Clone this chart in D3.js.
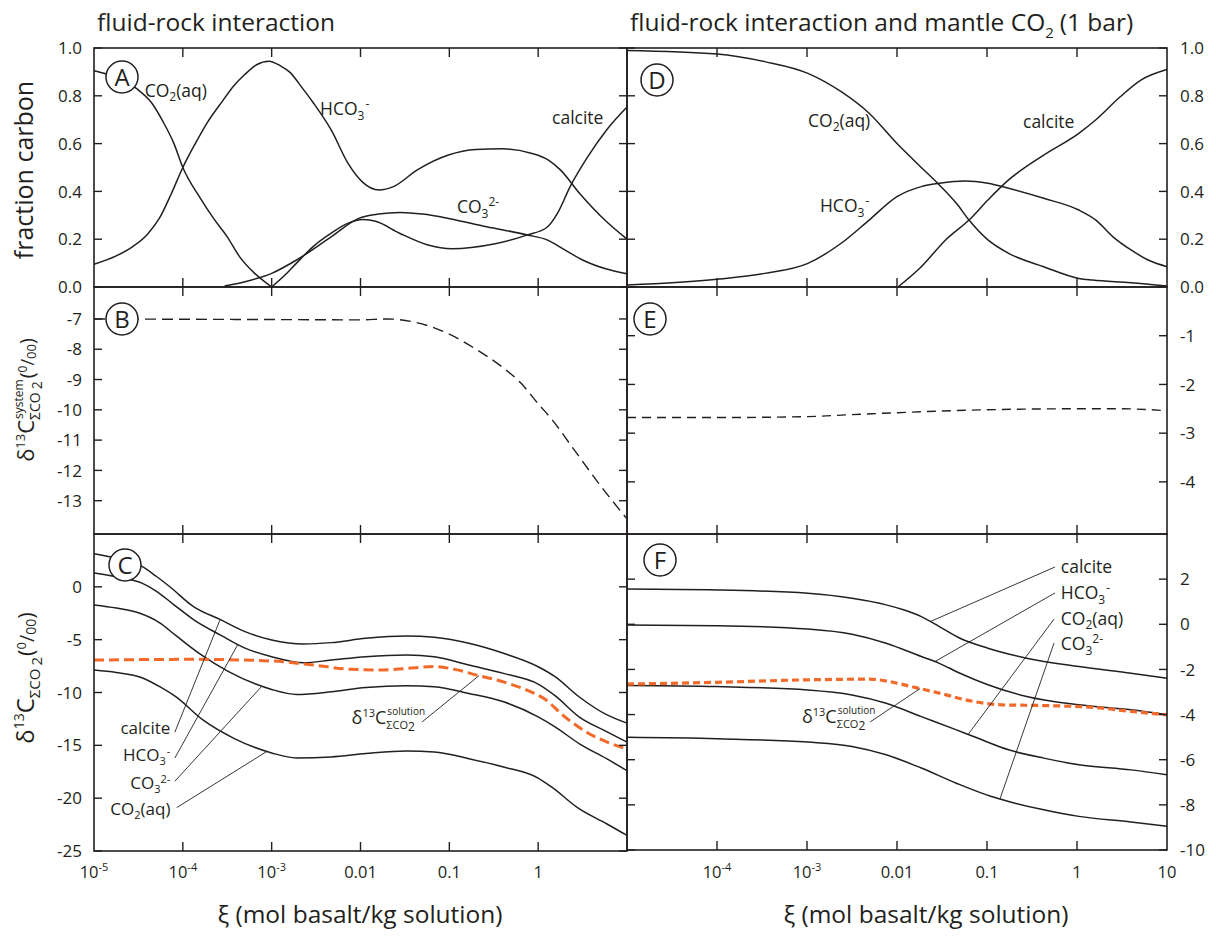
<!DOCTYPE html>
<html>
<head>
<meta charset="utf-8">
<script src="https://cdn.jsdelivr.net/npm/d3@7"></script>
<style>
  body { margin: 0; background: #fff; }
  svg text { font-family: "Open Sans", sans-serif; fill: #231f20; }
</style>
</head>
<body>
<svg id="chart" width="1216" height="940"></svg>
<script>
// every series is [log10 xi, value]

// A - fraction carbon, fluid-rock interaction
const aCO2aq = [[-5,0.905],[-4.85,0.89],[-4.52,0.83],[-4.35,0.77],[-4.22,0.69],[-4.1,0.6],[-4.0,0.5],[-3.8,0.37],[-3.66,0.29],[-3.5,0.21],[-3.36,0.126],[-3.2,0.06],[-3.0,0.0]];
const aHCO3 = [[-5,0.095],[-4.75,0.13],[-4.56,0.17],[-4.4,0.22],[-4.26,0.29],[-4.13,0.39],[-4.0,0.5],[-3.86,0.6],[-3.73,0.685],[-3.55,0.78],[-3.43,0.84],[-3.3,0.89],[-3.17,0.93],[-3.03,0.945],[-2.9,0.925],[-2.8,0.9],[-2.65,0.83],[-2.53,0.77],[-2.33,0.657],[-2.14,0.517],[-1.98,0.44],[-1.79,0.406],[-1.63,0.42],[-1.36,0.49],[-1.01,0.552],[-0.7,0.575],[-0.4,0.578],[-0.08,0.56],[0.12,0.53],[0.25,0.49],[0.47,0.39],[0.75,0.28],[1.0,0.2]];
const aCO3 = [[-3.53,0.004],[-3.3,0.022],[-3.0,0.057],[-2.72,0.113],[-2.33,0.21],[-2.02,0.287],[-1.8,0.305],[-1.55,0.312],[-1.3,0.305],[-1.01,0.287],[-0.58,0.252],[-0.12,0.218],[0.1,0.197],[0.3,0.155],[0.5,0.113],[0.77,0.075],[1.0,0.055]];
const aCalcite = [[-3.0,0.0],[-2.85,0.05],[-2.72,0.1],[-2.53,0.17],[-2.33,0.225],[-2.15,0.265],[-1.97,0.282],[-1.83,0.275],[-1.56,0.225],[-1.25,0.177],[-0.97,0.16],[-0.5,0.18],[-0.12,0.218],[0.1,0.25],[0.22,0.31],[0.36,0.42],[0.55,0.54],[0.77,0.657],[1.0,0.753]];

// B - d13C system
const bSystem = [[-5,-7.0],[-3,-7.02],[-2,-7.03],[-1.7,-7.0],[-1.4,-7.1],[-1.0,-7.5],[-0.7,-8.0],[-0.4,-8.6],[-0.2,-9.1],[0,-9.8],[0.15,-10.3],[0.4,-11.3],[0.7,-12.5],[1.0,-13.6]];

// C - d13C of species and solution
const cCalcite = [[-5,3.13],[-4.75,2.7],[-4.46,1.93],[-4.3,1.0],[-4.15,0.03],[-3.88,-1.87],[-3.57,-3.13],[-3.3,-4.24],[-3.0,-5.03],[-2.64,-5.41],[-2.33,-5.28],[-1.94,-4.87],[-1.48,-4.65],[-1.17,-4.78],[-0.78,-5.34],[-0.39,-6.29],[0.0,-7.56],[0.19,-8.5],[0.46,-10.4],[0.77,-12.1],[1.0,-12.9]];
const cHCO3 = [[-5,1.3],[-4.75,0.95],[-4.46,0.35],[-4.3,-0.4],[-4.1,-1.7],[-3.88,-3.1],[-3.57,-4.6],[-3.3,-5.8],[-3.0,-6.61],[-2.64,-7.18],[-2.33,-6.93],[-1.94,-6.61],[-1.48,-6.45],[-1.17,-6.61],[-0.78,-7.4],[-0.39,-8.19],[0.0,-9.2],[0.19,-10.3],[0.46,-12.3],[0.77,-13.7],[1.0,-14.7]];
const cCO3 = [[-5,-1.71],[-4.75,-2.0],[-4.5,-2.45],[-4.26,-3.4],[-4.08,-4.6],[-3.8,-6.4],[-3.49,-8.0],[-3.18,-9.2],[-3.0,-9.71],[-2.72,-10.18],[-2.33,-9.93],[-1.94,-9.52],[-1.48,-9.36],[-1.17,-9.46],[-0.78,-10.09],[-0.39,-10.88],[0.0,-12.3],[0.19,-13.25],[0.46,-14.83],[0.77,-16.26],[1.0,-17.4]];
const cCO2aq = [[-5,-7.87],[-4.75,-8.1],[-4.46,-8.6],[-4.25,-9.5],[-4.08,-10.4],[-3.77,-12.62],[-3.42,-14.36],[-3.0,-15.72],[-2.72,-16.19],[-2.33,-16.1],[-1.94,-15.78],[-1.48,-15.53],[-1.17,-15.62],[-0.78,-16.26],[-0.39,-17.05],[0.0,-18.1],[0.15,-18.94],[0.46,-21.0],[0.77,-22.42],[1.0,-23.53]];
const cSolution = [[-5,-6.93],[-3.88,-6.86],[-3.0,-7.02],[-2.53,-7.4],[-2.1,-7.81],[-1.75,-7.87],[-1.48,-7.72],[-1.17,-7.55],[-0.94,-7.81],[-0.67,-8.4],[-0.39,-9.0],[-0.12,-9.8],[0.07,-10.6],[0.3,-12.3],[0.57,-13.88],[0.77,-14.67],[1.0,-15.35]];

// D - fraction carbon with mantle CO2
const dCO2aq = [[-5,0.99],[-4.0,0.975],[-3.47,0.943],[-2.99,0.894],[-2.62,0.817],[-2.31,0.727],[-2.0,0.6],[-1.73,0.5],[-1.53,0.427],[-1.34,0.35],[-1.2,0.28],[-0.99,0.197],[-0.76,0.141],[-0.37,0.085],[0.02,0.036],[0.17,0.029],[0.6,0.018],[1.0,0.004]];
const dHCO3 = [[-5,0.008],[-4.0,0.032],[-3.47,0.057],[-2.99,0.099],[-2.62,0.183],[-2.31,0.28],[-2.0,0.378],[-1.73,0.42],[-1.53,0.434],[-1.24,0.444],[-0.99,0.434],[-0.76,0.413],[-0.37,0.371],[0.02,0.322],[0.21,0.28],[0.4,0.21],[0.6,0.155],[0.79,0.113],[1.0,0.085]];
const dCalcite = [[-1.99,0.0],[-1.73,0.085],[-1.46,0.197],[-1.2,0.28],[-0.99,0.364],[-0.76,0.448],[-0.37,0.552],[0.02,0.643],[0.21,0.7],[0.48,0.796],[0.71,0.866],[1.0,0.91]];

// E - d13C system with mantle CO2
const eSystem = [[-5,-2.68],[-4,-2.68],[-3,-2.66],[-2.5,-2.62],[-2,-2.58],[-1,-2.52],[0,-2.5],[0.5,-2.5],[1,-2.54]];

// F - d13C of species and solution with mantle CO2
const fCalcite = [[-5,1.56],[-4,1.52],[-2.99,1.37],[-2.5,1.15],[-2.12,0.86],[-1.92,0.63],[-1.73,0.34],[-1.53,-0.1],[-1.3,-0.62],[-0.99,-1.06],[-0.56,-1.5],[0.02,-1.87],[0.6,-2.17],[1.0,-2.39]];
const fHCO3 = [[-5,-0.03],[-4,-0.06],[-2.99,-0.21],[-2.5,-0.44],[-2.12,-0.84],[-1.73,-1.43],[-1.53,-1.73],[-1.3,-2.17],[-0.99,-2.68],[-0.56,-3.2],[0.02,-3.57],[0.6,-3.79],[1.0,-4.01]];
const fCO2aq = [[-5,-2.71],[-4,-2.76],[-2.99,-2.91],[-2.5,-3.13],[-2.12,-3.5],[-1.73,-4.09],[-1.34,-4.68],[-1.15,-4.97],[-0.76,-5.56],[-0.37,-5.93],[0.02,-6.22],[0.6,-6.45],[1.0,-6.67]];
const fCO3 = [[-5,-5.01],[-4,-5.07],[-2.99,-5.22],[-2.5,-5.41],[-2.12,-5.78],[-1.73,-6.37],[-1.34,-7.04],[-0.95,-7.63],[-0.76,-7.85],[-0.37,-8.22],[0.02,-8.51],[0.6,-8.76],[1.0,-8.95]];
const fSolution = [[-5,-2.65],[-4,-2.57],[-2.99,-2.46],[-2.31,-2.43],[-2.08,-2.54],[-1.84,-2.76],[-1.53,-3.05],[-1.15,-3.42],[-0.84,-3.57],[-0.37,-3.6],[0.21,-3.69],[0.6,-3.86],[1.0,-4.01]];

// ticks
const xTickMarks = [1e-4, 1e-3, 0.01, 0.1, 1];
const xLeftTicks = [1e-5, 1e-4, 1e-3, 0.01, 0.1, 1];
const xLeftLabels = [["10","-5"],["10","-4"],["10","-3"],["0.01"],["0.1"],["1"]];
const xRightTicks = [1e-4, 1e-3, 0.01, 0.1, 1, 10];
const xRightLabels = [["10","-4"],["10","-3"],["0.01"],["0.1"],["1"],["10"]];
const fracTicks = [0, 0.2, 0.4, 0.6, 0.8, 1.0];
const fracLabels = ["0.0","0.2","0.4","0.6","0.8","1.0"];
const bTicks = [-7, -8, -9, -10, -11, -12, -13];
const cTicks = [0, -5, -10, -15, -20, -25];
const eTicks = [-1, -2, -3, -4];
const fTicks = [2, 0, -2, -4, -6, -8, -10];

const ink = "#231f20", orange = "#f26a2a";
const svg = d3.select("#chart");
svg.append("rect").attr("width", 1216).attr("height", 940).attr("fill", "#fff");

const xL = d3.scaleLog().domain([1e-5, 10]).range([94, 627]);
const xR = d3.scaleLog().domain([1e-5, 10]).range([627, 1167]);
const yA = d3.scaleLinear().domain([0, 1]).range([287, 48]);
const yB = d3.scaleLinear().domain([-14.1, -5.945]).range([534, 287]);
const yC = d3.scaleLinear().domain([-25, 5]).range([851, 534]);
const yD = yA;
const yE = d3.scaleLinear().domain([-5.07, 0]).range([534, 287]);
const yF = d3.scaleLinear().domain([-10, 4]).range([850, 534]);

const xi = e => Math.pow(10, e);

// one text element, tspans for sub/superscripts; "back" steps to a marked x so scripts can stack
function rich(parent, x, y, parts, anchor) {
  const g = parent.append("g");
  const text = g.append("text");
  let cx = 0, mark = 0, maxX = 0, base = 0;
  parts.forEach(p => {
    const target = (p.back ? mark : (p.fromMax ? maxX : cx)) + (p.dx || 0);
    const ts = text.append("tspan")
      .attr("dx", target - cx)
      .attr("dy", (p.dy || 0) - base)
      .style("font-size", p.s + "px")
      .text(p.t);
    base = p.dy || 0;
    cx = target + ts.node().getComputedTextLength();
    if (p.mark) mark = cx;
    maxX = Math.max(maxX, cx);
  });
  const shift = anchor === "end" ? -maxX : anchor === "middle" ? -maxX / 2 : 0;
  g.attr("transform", `translate(${x + shift},${y})`);
  return g;
}

const species = {
  calcite: [{t: "calcite", s: 17.5}],
  CO2aq: [{t: "CO", s: 17.5}, {t: "2", s: 12, dy: 4}, {t: "(aq)", s: 17.5}],
  HCO3: [{t: "HCO", s: 17.5}, {t: "3", s: 12, dy: 5}, {t: "-", s: 12, dy: -7, dx: 1}],
  CO3: [{t: "CO", s: 17.5}, {t: "3", s: 12, dy: 5}, {t: "2-", s: 12, dy: -7, dx: 0}]
};
// tighter set for the stacked callouts in panel C
const speciesC = {
  calcite: [{t: "calcite", s: 17}],
  CO2aq: [{t: "CO", s: 17}, {t: "2", s: 11, dy: 4}, {t: "(aq)", s: 17}],
  HCO3: [{t: "HCO", s: 17}, {t: "3", s: 11, dy: 4}, {t: "-", s: 11, dy: -6, dx: 1}],
  CO3: [{t: "CO", s: 17}, {t: "3", s: 11, dy: 4}, {t: "2-", s: 11, dy: -6, dx: 0}]
};
const solutionParts = [
  {t: "δ", s: 18}, {t: "13", s: 11, dy: -7}, {t: "C", s: 18, dy: 0, mark: true},
  {t: "ΣCO", s: 11, dy: 5}, {t: "2", s: 12, dy: 7},
  {t: "solution", s: 10, dy: -9, back: true, dx: 1}
];

function curve(x, y, data, opts) {
  const gen = d3.line().x(d => x(xi(d[0]))).y(d => y(d[1])).curve(d3.curveMonotoneX);
  svg.append("path").attr("d", gen(data))
    .attr("fill", "none")
    .attr("stroke", opts.color || ink)
    .attr("stroke-width", opts.width || 1.5)
    .attr("stroke-dasharray", opts.dash || null);
}

function valueAt(data, e) {
  for (let i = 1; i < data.length; i++) {
    if (e <= data[i][0]) {
      const [e0, v0] = data[i - 1], [e1, v1] = data[i];
      return v0 + (v1 - v0) * (e - e0) / (e1 - e0);
    }
  }
  return data[data.length - 1][1];
}

function leader(x, y, ax, ay, data, ce) {
  svg.append("line")
    .attr("x1", x(xi(ax))).attr("y1", y(ay))
    .attr("x2", x(xi(ce))).attr("y2", y(valueAt(data, ce)))
    .attr("stroke", ink).attr("stroke-width", 0.9);
}

// curves
curve(xL, yA, aCO2aq, {});
curve(xL, yA, aHCO3, {});
curve(xL, yA, aCO3, {});
curve(xL, yA, aCalcite, {});
curve(xL, yB, bSystem, {width: 1.4, dash: "11,6"});
curve(xL, yC, cCalcite, {});
curve(xL, yC, cHCO3, {});
curve(xL, yC, cCO3, {});
curve(xL, yC, cCO2aq, {});
curve(xL, yC, cSolution, {color: orange, width: 3, dash: "10,5"});
curve(xR, yD, dCO2aq, {});
curve(xR, yD, dHCO3, {});
curve(xR, yD, dCalcite, {});
curve(xR, yE, eSystem, {width: 1.4, dash: "9,6"});
curve(xR, yF, fCalcite, {});
curve(xR, yF, fHCO3, {});
curve(xR, yF, fCO2aq, {});
curve(xR, yF, fCO3, {});
curve(xR, yF, fSolution, {color: orange, width: 3.2, dash: "7,4"});

// frames with inward ticks
function frame(x, y, yt) {
  const [x0, x1] = x.range(), [yb, yt0] = y.range();
  svg.append("rect").attr("x", x0).attr("y", yt0)
    .attr("width", x1 - x0).attr("height", yb - yt0)
    .attr("fill", "none").attr("stroke", ink).attr("stroke-width", 1.6);
  const g = svg.append("g").attr("stroke", ink).attr("stroke-width", 1.4);
  xTickMarks.forEach(v => {
    g.append("line").attr("x1", x(v)).attr("x2", x(v)).attr("y1", yt0).attr("y2", yt0 + 9);
    g.append("line").attr("x1", x(v)).attr("x2", x(v)).attr("y1", yb).attr("y2", yb - 9);
  });
  yt.forEach(v => {
    g.append("line").attr("x1", x0).attr("x2", x0 + 8).attr("y1", y(v)).attr("y2", y(v));
    g.append("line").attr("x1", x1).attr("x2", x1 - 8).attr("y1", y(v)).attr("y2", y(v));
  });
}
frame(xL, yA, fracTicks);
frame(xL, yB, bTicks);
frame(xL, yC, cTicks);
frame(xR, yD, fracTicks);
frame(xR, yE, eTicks);
frame(xR, yF, fTicks);

// y tick labels
function yLabels(y, vals, labels, side) {
  vals.forEach((v, i) => {
    svg.append("text")
      .attr("x", side === "left" ? 82 : 1180)
      .attr("y", y(v)).attr("dy", "0.36em")
      .attr("text-anchor", side === "left" ? "end" : "start")
      .style("font-size", "17px")
      .text(labels ? labels[i] : String(v));
  });
}
yLabels(yA, fracTicks, fracLabels, "left");
yLabels(yB, bTicks, null, "left");
yLabels(yC, cTicks, null, "left");
yLabels(yD, fracTicks, fracLabels, "right");
yLabels(yE, eTicks, null, "right");
yLabels(yF, fTicks, null, "right");

// x tick labels
function xLabels(x, vals, labels) {
  vals.forEach((v, i) => {
    const l = labels[i];
    const parts = [{t: l[0], s: 16.5}];
    if (l[1]) parts.push({t: l[1], s: 11, dy: -7});
    rich(svg, x(v), 878, parts, "middle");
  });
}
xLabels(xL, xLeftTicks, xLeftLabels);
xLabels(xR, xRightTicks, xRightLabels);

// titles
rich(svg, 360, 923, [{t: "ξ (mol basalt/kg solution)", s: 24.5}], "middle");
rich(svg, 926, 923, [{t: "ξ (mol basalt/kg solution)", s: 24.5}], "middle");
rich(svg, 97, 31, [{t: "fluid-rock interaction", s: 24.5}]);
rich(svg, 630, 31, [{t: "fluid-rock interaction and mantle CO", s: 24.5}, {t: "2", s: 15, dy: 7},
  {t: "(1 bar)", s: 24.5, dy: 0, dx: 6}]);

rich(svg.append("g").attr("transform", "translate(33,170) rotate(-90)"), 0, 0,
  [{t: "fraction carbon", s: 25}], "middle");
rich(svg.append("g").attr("transform", "translate(34,400) rotate(-90)"), 0, 0, [
  {t: "δ", s: 22}, {t: "13", s: 13, dy: -9}, {t: "C", s: 22, dy: 0, mark: true},
  {t: "ΣCO", s: 14, dy: 6}, {t: "2", s: 14, dy: 8, dx: 3},
  {t: "system", s: 12, dy: -11, back: true, dx: 1},
  {t: "(", s: 20, dy: 0, fromMax: true, dx: 1}, {t: "0", s: 12, dy: -7}, {t: "/", s: 18, dy: 0},
  {t: "00", s: 13, dy: 2}, {t: ")", s: 20, dy: 0}
], "middle");
rich(svg.append("g").attr("transform", "translate(34,678) rotate(-90)"), 0, 0, [
  {t: "δ", s: 24}, {t: "13", s: 14, dy: -10}, {t: "C", s: 24, dy: 0, mark: true},
  {t: "ΣCO", s: 15, dy: 6}, {t: "2", s: 15, dy: 8, dx: 3},
  {t: "(", s: 22, dy: 0, dx: 1}, {t: "0", s: 13, dy: -8}, {t: "/", s: 20, dy: 0},
  {t: "00", s: 14, dy: 2}, {t: ")", s: 22, dy: 0}
], "middle");

// species labels, panels A and D
const aNotes = [["CO2aq", -4.43, 0.795], ["HCO3", -2.456, 0.72], ["calcite", 0.156, 0.682], ["CO3", -0.914, 0.31]];
aNotes.forEach(n => rich(svg, xL(xi(n[1])), yA(n[2]), species[n[0]]));
const dNotes = [["CO2aq", -2.989, 0.669], ["calcite", -0.6, 0.665], ["HCO3", -2.856, 0.314]];
dNotes.forEach(n => rich(svg, xR(xi(n[1])), yD(n[2]), species[n[0]]));

// panel C callouts: label end, leader start, curve point
const cNotes = [
  {k: "calcite", lx: -4.14, ly: -13.9, ax: -4.09, ay: -13.76, s: cCalcite, ce: -3.58},
  {k: "HCO3", lx: -4.14, ly: -16.5, ax: -4.09, ay: -16.2, s: cHCO3, ce: -3.38},
  {k: "CO3", lx: -4.14, ly: -19.1, ax: -4.09, ay: -18.4, s: cCO3, ce: -3.11},
  {k: "CO2aq", lx: -4.14, ly: -21.6, ax: -4.07, ay: -20.9, s: cCO2aq, ce: -3.05}
];
cNotes.forEach(n => {
  rich(svg, xL(xi(n.lx)), yC(n.ly), speciesC[n.k], "end");
  leader(xL, yC, n.ax, n.ay, n.s, n.ce);
});
rich(svg, xL(xi(-2.10)), yC(-12.98), solutionParts);
leader(xL, yC, -1.307, -12.79, cSolution, -0.666);

// panel F callouts
const fNotes = [
  {k: "calcite", lx: -0.18, ly: 2.27, ax: -0.244, ay: 2.54, s: fCalcite, ce: -1.63},
  {k: "HCO3", lx: -0.18, ly: 1.12, ax: -0.244, ay: 1.39, s: fHCO3, ce: -1.58},
  {k: "CO2aq", lx: -0.18, ly: -0.03, ax: -0.255, ay: 0.23, s: fCO2aq, ce: -1.21},
  {k: "CO3", lx: -0.18, ly: -1.14, ax: -0.255, ay: -0.83, s: fCO3, ce: -0.856}
];
fNotes.forEach(n => {
  rich(svg, xR(xi(n.lx)), yF(n.ly), species[n.k]);
  leader(xR, yF, n.ax, n.ay, n.s, n.ce);
});
rich(svg, xR(xi(-3.056)), yF(-4.37), solutionParts);
leader(xR, yF, -2.30, -4.33, fSolution, -1.744);

// circled panel letters, offset from each panel's top-left corner
const letters = [
  ["A", xL, yA, 28, 29], ["B", xL, yB, 28, 32], ["C", xL, yC, 31, 31],
  ["D", xR, yD, 30, 32], ["E", xR, yE, 23, 32], ["F", xR, yF, 33, 26]
];
letters.forEach(([t, x, y, dx, dy]) => {
  const cx = x.range()[0] + dx, cy = y.range()[1] + dy;
  svg.append("circle").attr("cx", cx).attr("cy", cy).attr("r", 16)
    .attr("fill", "#fff").attr("stroke", ink).attr("stroke-width", 1.5);
  svg.append("text").attr("x", cx).attr("y", cy).attr("dy", "0.36em")
    .attr("text-anchor", "middle").style("font-size", "24px").text(t);
});
</script>
</body>
</html>
